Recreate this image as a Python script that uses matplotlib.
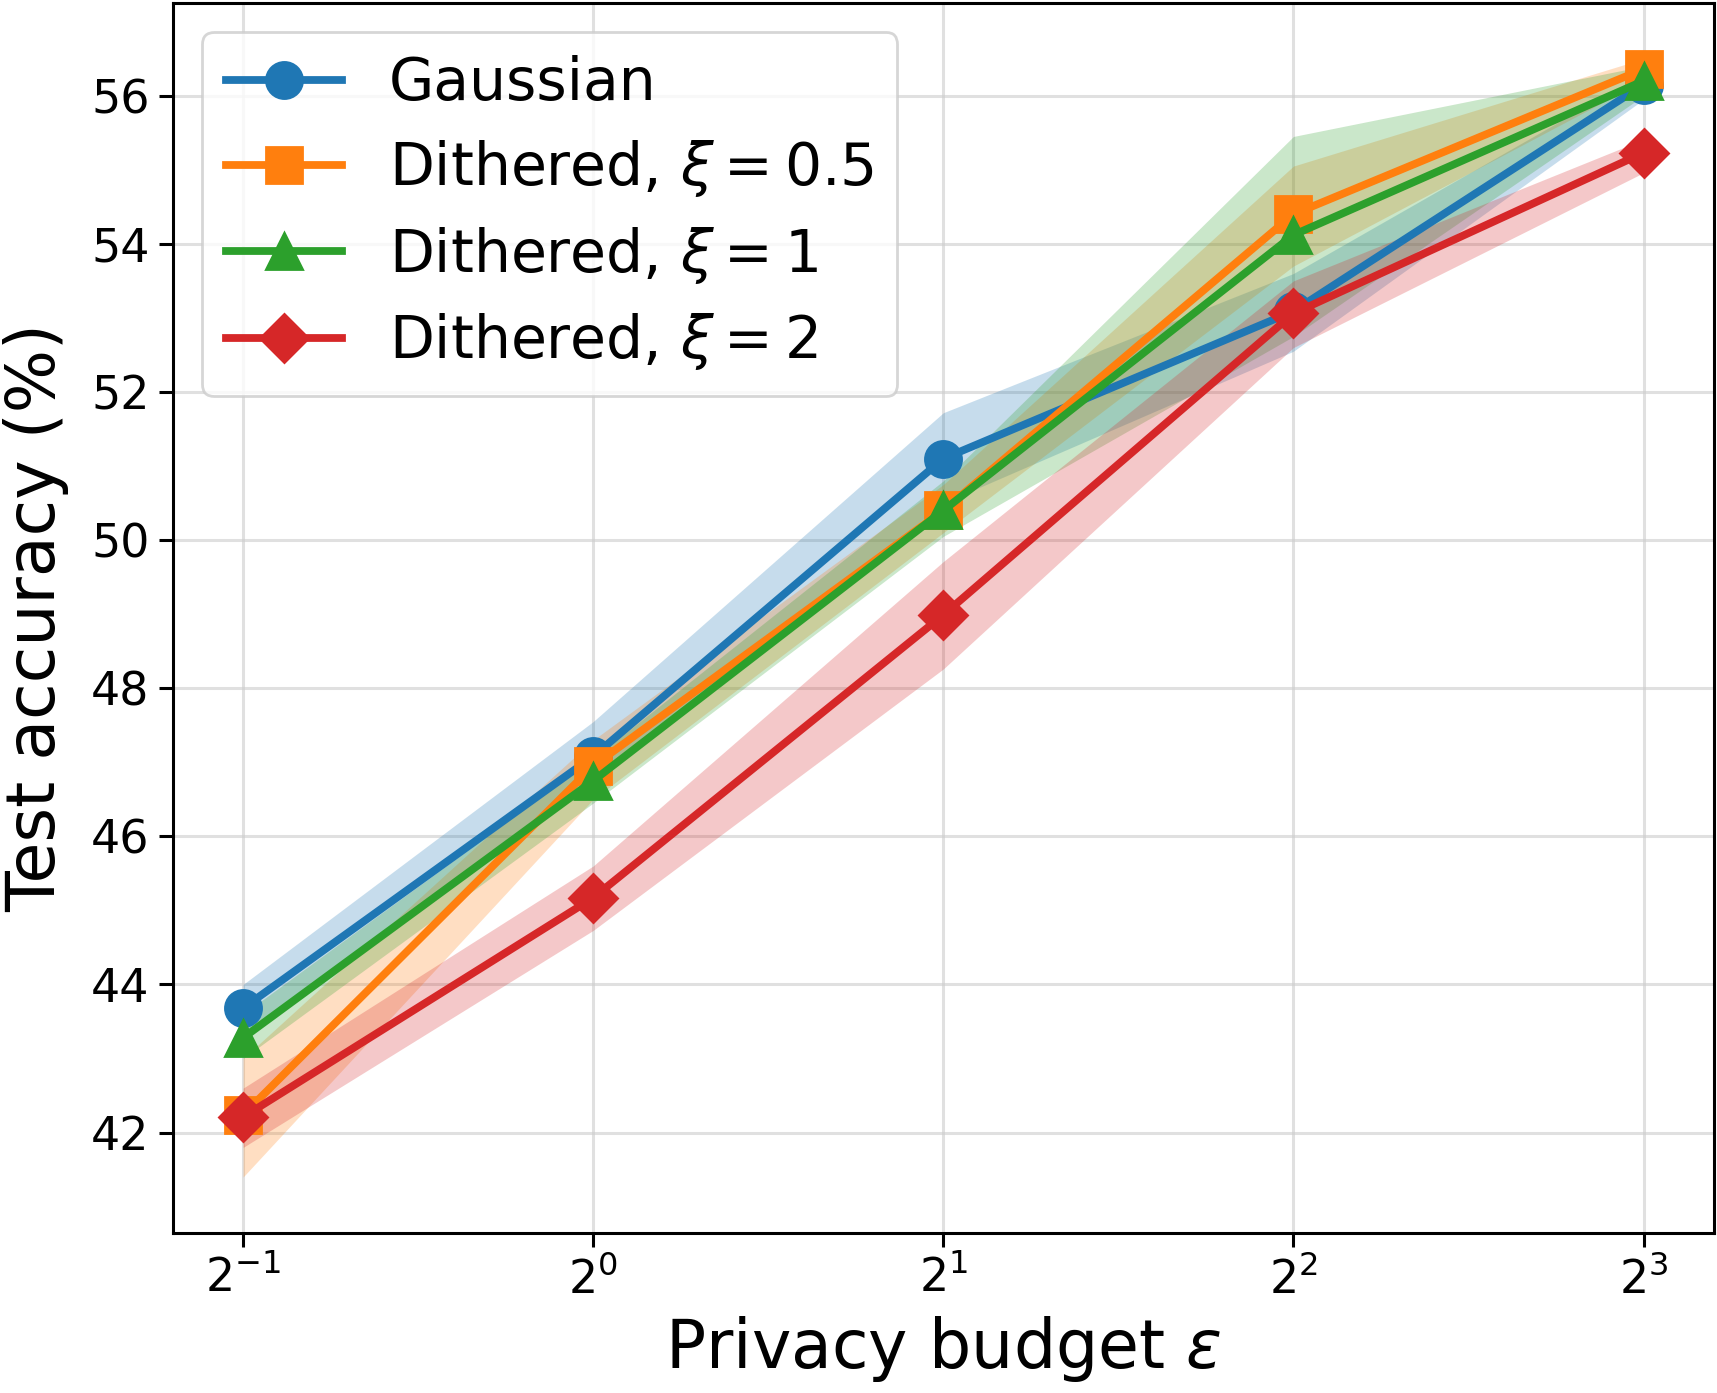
import matplotlib
matplotlib.use("Agg")
import matplotlib.pyplot as plt
import numpy as np

eps = [0.5, 1, 2, 4, 8]

# mean test accuracy (%) and the shaded band edges
gauss = [43.68, 47.08, 51.1, 53.09, 56.15]
gauss_lo = [43.35, 46.7, 50.5, 52.55, 55.95]
gauss_hi = [44.0, 47.55, 51.72, 53.6, 56.3]

dith05 = [42.24, 46.95, 50.4, 54.4, 56.36]
dith05_lo = [41.4, 46.5, 50.1, 53.7, 56.2]
dith05_hi = [43.0, 47.3, 50.75, 55.05, 56.5]

dith1 = [43.28, 46.75, 50.4, 54.12, 56.2]
dith1_lo = [43.0, 46.45, 50.05, 52.75, 56.0]
dith1_hi = [43.6, 47.05, 50.8, 55.45, 56.4]

dith2 = [42.21, 45.17, 48.99, 53.06, 55.23]
dith2_lo = [41.8, 44.73, 48.26, 52.6, 54.96]
dith2_hi = [42.6, 45.6, 49.71, 53.5, 55.41]

series = [
    ("Gaussian", gauss, gauss_lo, gauss_hi, "#1f77b4", "o"),
    (r"Dithered, $\xi = 0.5$", dith05, dith05_lo, dith05_hi, "#ff7f0e", "s"),
    (r"Dithered, $\xi = 1$", dith1, dith1_lo, dith1_hi, "#2ca02c", "^"),
    (r"Dithered, $\xi = 2$", dith2, dith2_lo, dith2_hi, "#d62728", "D"),
]

fig = plt.figure(figsize=(8.585, 6.965), dpi=200)
ax = fig.add_axes([0.1008, 0.1149, 0.8972, 0.8831])

for label, m, lo, hi, c, mk in series:
    ax.fill_between(eps, lo, hi, color=c, alpha=0.25, linewidth=0)
    ms = 13 if mk != "D" else 12
    ax.plot(eps, m, color=c, marker=mk, markersize=ms, linewidth=2.8, label=label)

ax.set_xscale("log", base=2)
ax.set_xticks(eps)
ax.minorticks_off()
ax.set_yticks([42, 44, 46, 48, 50, 52, 54, 56])
ax.tick_params(labelsize=16.5, width=1.1, length=5)
for s in ax.spines.values():
    s.set_linewidth(1.1)
ax.grid(True, color="#cccccc", alpha=0.6, linewidth=1.1)
ax.set_axisbelow(True)

ax.set_xlabel(r"Privacy budget $\varepsilon$", fontsize=24)
ax.set_ylabel("Test accuracy (%)", fontsize=24, labelpad=8)

ax.legend(loc="upper left", fontsize=21, labelspacing=0.44)

fig.savefig("out.png", dpi=200)
